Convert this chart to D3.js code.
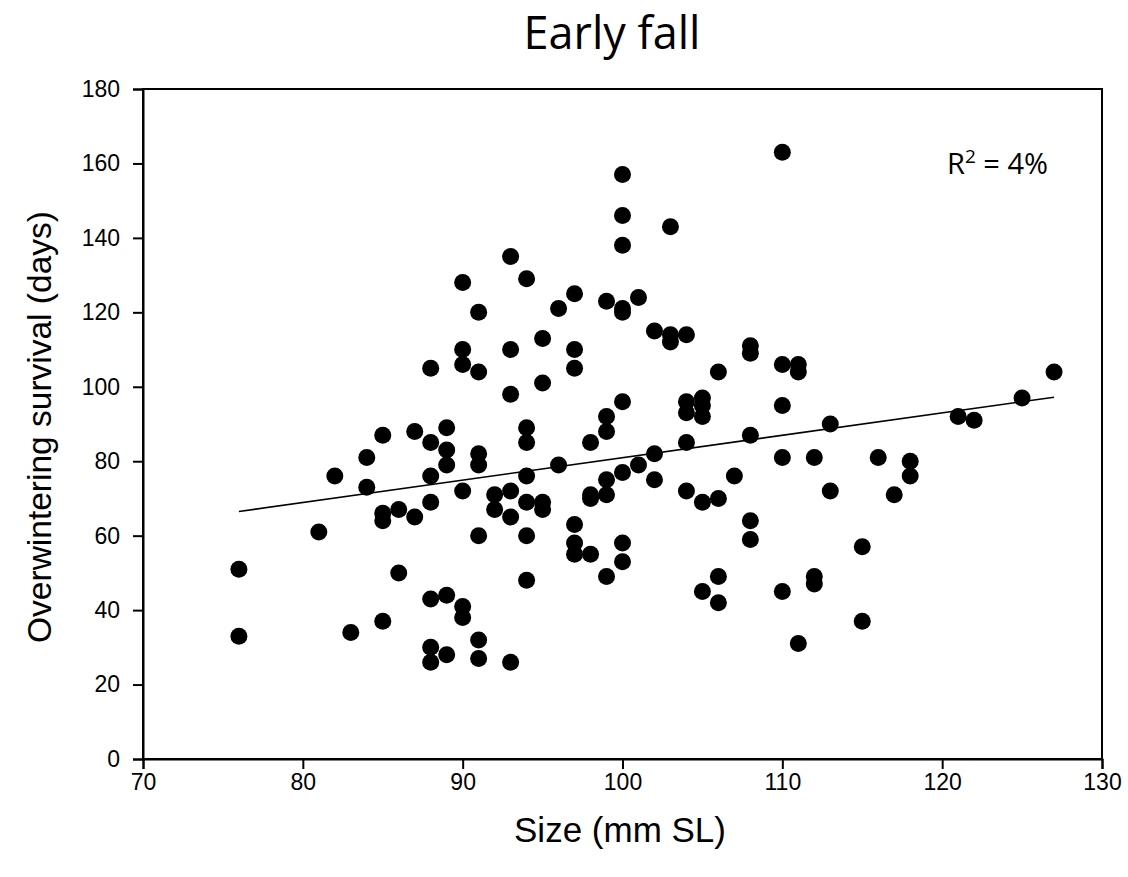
<!DOCTYPE html>
<html>
<head>
<meta charset="utf-8">
<script src="https://cdn.jsdelivr.net/npm/d3@7"></script>
<style>
  html, body { margin: 0; padding: 0; background: #fff; }
  svg { display: block; }
</style>
</head>
<body>
<svg id="chart" width="1128" height="877"></svg>
<script>
// ---- Data ----
const sizeMm = [
  76, 76,
  81, 82, 83,
  84, 84,
  85, 85, 85, 85,
  86, 86,
  87, 87,
  88, 88, 88, 88, 88, 88, 88,
  89, 89, 89, 89, 89,
  90, 90, 90, 90, 90, 90,
  91, 91, 91, 91, 91, 91, 91,
  92, 92,
  93, 93, 93, 93, 93, 93,
  94, 94, 94, 94, 94, 94, 94,
  95, 95, 95, 95,
  96, 96,
  97, 97, 97, 97, 97, 97,
  98, 98, 98, 98,
  99, 99, 99, 99, 99, 99,
  100, 100, 100, 100, 100, 100, 100, 100, 100,
  101, 101,
  102, 102, 102,
  103, 103, 103,
  104, 104, 104, 104, 104,
  105, 105, 105, 105, 105,
  106, 106, 106, 106,
  107,
  108, 108, 108, 108, 108,
  110, 110, 110, 110, 110,
  111, 111, 111,
  112, 112, 112,
  113, 113,
  115, 115,
  116, 117,
  118, 118,
  121, 122, 125, 127
];
const survivalDays = [
  51, 33,
  61, 76, 34,
  81, 73,
  87, 66, 64, 37,
  67, 50,
  88, 65,
  105, 85, 76, 69, 43, 30, 26,
  89, 83, 79, 44, 28,
  128, 110, 106, 72, 41, 38,
  120, 104, 82, 79, 60, 32, 27,
  71, 67,
  135, 110, 98, 72, 65, 26,
  129, 89, 85, 76, 69, 60, 48,
  113, 101, 69, 67,
  121, 79,
  125, 110, 105, 63, 58, 55,
  85, 71, 70, 55,
  123, 92, 88, 75, 71, 49,
  157, 146, 138, 121, 120, 96, 77, 58, 53,
  124, 79,
  115, 82, 75,
  143, 114, 112,
  114, 96, 93, 85, 72,
  97, 95, 92, 69, 45,
  104, 70, 49, 42,
  76,
  111, 109, 87, 64, 59,
  163, 106, 95, 81, 45,
  106, 104, 31,
  81, 49, 47,
  90, 72,
  57, 37,
  81, 71,
  80, 76,
  92, 91, 97, 104
];
// regression line end points
const fitX = [76, 127];
const fitY = [66.5, 97.2];

const xTicks = [70, 80, 90, 100, 110, 120, 130];
const yTicks = [0, 20, 40, 60, 80, 100, 120, 140, 160, 180];

const titleText = "Early fall";
const xLabel = "Size (mm SL)";
const yLabel = "Overwintering survival (days)";
const r2Label = "4%";

// ---- Layout ----
const svg = d3.select("#chart");
const plotL = 143, plotR = 1102, plotT = 89, plotB = 759;

const x = d3.scaleLinear().domain([70, 130]).range([plotL, plotR]);
const y = d3.scaleLinear().domain([0, 180]).range([plotB, plotT]);

const axisFont = "'Liberation Sans', Arial, sans-serif";
const titleFont = "'Open Sans', 'Noto Sans', sans-serif";

// frame
svg.append("rect")
  .attr("x", plotL).attr("y", plotT)
  .attr("width", plotR - plotL).attr("height", plotB - plotT)
  .attr("fill", "none").attr("stroke", "#000").attr("stroke-width", 2);

// axes
const xAxis = d3.axisBottom(x).tickValues(xTicks).tickSize(10).tickPadding(5).tickFormat(d3.format("d"));
const yAxis = d3.axisLeft(y).tickValues(yTicks).tickSize(10).tickPadding(13).tickFormat(d3.format("d"));

const gx = svg.append("g").attr("transform", `translate(0,${plotB})`).call(xAxis);
const gy = svg.append("g").attr("transform", `translate(${plotL},0)`).call(yAxis);

[gx, gy].forEach(g => {
  g.select(".domain").attr("stroke", "#000").attr("stroke-width", 2);
  g.selectAll(".tick line").attr("stroke", "#000").attr("stroke-width", 2);
  g.selectAll(".tick text")
    .attr("fill", "#000")
    .style("font-family", axisFont)
    .style("font-size", "23px");
});

// regression line
const fit = fitX.map((v, i) => [v, fitY[i]]);
svg.append("path")
  .datum(fit)
  .attr("d", d3.line().x(d => x(d[0])).y(d => y(d[1])))
  .attr("fill", "none").attr("stroke", "#000").attr("stroke-width", 1.6);

// points
const pts = sizeMm.map((v, i) => ({ x: v, y: survivalDays[i] }));
svg.append("g").selectAll("circle")
  .data(pts).join("circle")
  .attr("cx", d => x(d.x))
  .attr("cy", d => y(d.y))
  .attr("r", 8.5)
  .attr("fill", "#000");

// title
svg.append("text")
  .attr("x", 612).attr("y", 49)
  .attr("text-anchor", "middle")
  .style("font-family", titleFont)
  .style("font-size", "45px")
  .attr("fill", "#000")
  .text(titleText);

// R^2 label
const r2 = svg.append("text")
  .attr("x", 947).attr("y", 174)
  .style("font-family", titleFont)
  .style("font-size", "29px")
  .attr("fill", "#000");
r2.append("tspan").text("R");
r2.append("tspan").attr("dy", -11).style("font-size", "19px").text("2");
r2.append("tspan").attr("dy", 11).text(" = " + r2Label);

// axis labels
svg.append("text")
  .attr("x", 620).attr("y", 842)
  .attr("text-anchor", "middle")
  .style("font-family", axisFont)
  .style("font-size", "35px")
  .attr("fill", "#000")
  .text(xLabel);

svg.append("text")
  .attr("transform", `translate(51,${(plotT + plotB) / 2 + 3}) rotate(-90)`)
  .attr("text-anchor", "middle")
  .style("font-family", axisFont)
  .style("font-size", "33.5px")
  .attr("fill", "#000")
  .text(yLabel);
</script>
</body>
</html>
